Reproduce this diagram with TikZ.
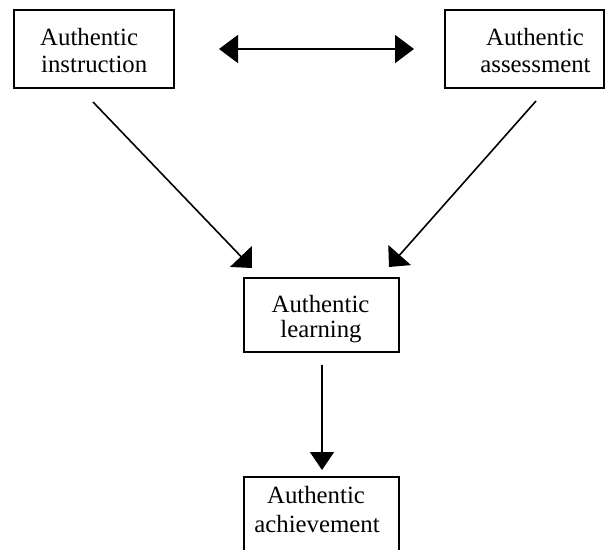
\documentclass[tikz,border=0pt]{standalone}
\usepackage{fontspec}
\setmainfont{Liberation Serif}
\usetikzlibrary{arrows.meta}
\begin{document}
\begin{tikzpicture}[x=1pt,y=-1pt,
  box/.style={draw,line width=2.2pt,minimum width=#1,inner sep=0pt,anchor=north west},
  lbl/.style={inner sep=0pt,font=\fontsize{24.8}{27}\selectfont},
  conn/.style={line width=1.6pt}]
\useasboundingbox (0,0) rectangle (605,549);
\clip (0,0) rectangle (605,549);
% boxes
\node[box=160pt,minimum height=78pt] (b1) at (13,9) {};
\node[box=159pt,minimum height=78pt] (b2) at (444,9) {};
\node[box=155pt,minimum height=74pt] (b3) at (243,277) {};
\node[box=155pt,minimum height=76pt] (b4) at (243,476) {};
% texts
\node[lbl,anchor=base west] (t1a) at (40,45) {Authentic};
\node[lbl,anchor=base west] (t1b) at (41,72) {instruction};
\node[lbl,anchor=base] (t2a) at (535,45) {Authentic};
\node[lbl,anchor=base] (t2b) at (535.5,72) {assessment};
\node[lbl,anchor=base] (t3a) at (320.5,312) {Authentic};
\node[lbl,anchor=base] (t3b) at (321,337) {learning};
\node[lbl,anchor=base] (t4a) at (316,503) {Authentic};
\node[lbl,anchor=base] (t4b) at (317,532) {achievement};
% connectors
\coordinate (h1) at (219,49);
\coordinate (h2) at (414,49);
\draw[conn,{Triangle[length=19pt,width=28pt]}-{Triangle[length=19pt,width=28pt]}] (h1) -- (h2);
\coordinate (d1s) at (93,102);
\coordinate (d1e) at (252,268);
\draw[conn,-{Triangle[length=16pt,width=30pt]}] (d1s) -- (d1e);
\coordinate (d2s) at (536,101);
\coordinate (d2e) at (389,267);
\draw[conn,-{Triangle[length=16pt,width=30pt]}] (d2s) -- (d2e);
\coordinate (v1s) at (322,365);
\coordinate (v1e) at (322,470);
\draw[conn,-{Triangle[length=18pt,width=24pt]}] (v1s) -- (v1e);
\end{tikzpicture}
\end{document}
